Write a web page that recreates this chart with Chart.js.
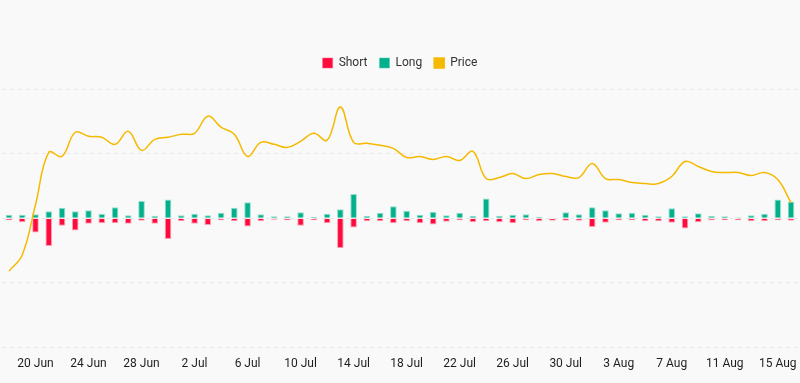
<!DOCTYPE html>
<html>
<head>
<meta charset="utf-8">
<script src="https://cdn.jsdelivr.net/npm/chart.js@4.4.1/dist/chart.umd.min.js"></script>
<style>
  html, body { margin: 0; padding: 0; background: #f9f9f9; }
  #wrap { width: 800px; height: 383px; position: relative; }
</style>
</head>
<body>
<div id="wrap"><canvas id="c"></canvas></div>
<script>
const dates = [
  "18 Jun","19 Jun","20 Jun","21 Jun","22 Jun","23 Jun","24 Jun","25 Jun","26 Jun","27 Jun",
  "28 Jun","29 Jun","30 Jun","1 Jul","2 Jul","3 Jul","4 Jul","5 Jul","6 Jul","7 Jul",
  "8 Jul","9 Jul","10 Jul","11 Jul","12 Jul","13 Jul","14 Jul","15 Jul","16 Jul","17 Jul",
  "18 Jul","19 Jul","20 Jul","21 Jul","22 Jul","23 Jul","24 Jul","25 Jul","26 Jul","27 Jul",
  "28 Jul","29 Jul","30 Jul","31 Jul","1 Aug","2 Aug","3 Aug","4 Aug","5 Aug","6 Aug",
  "7 Aug","8 Aug","9 Aug","10 Aug","11 Aug","12 Aug","13 Aug","14 Aug","15 Aug","16 Aug"
];

const shortLiq = [
  -0.31,-0.62,-2.19,-4.30,-1.17,-1.88,-0.86,-0.78,-0.78,-0.86,
  -0.39,-0.86,-3.20,-0.47,-0.86,-1.02,-0.31,-0.47,-1.25,-0.47,
  -0.23,-0.31,-1.17,-0.31,-0.78,-4.61,-1.41,-0.47,-0.47,-0.78,
  -0.47,-0.78,-0.94,-0.55,-0.31,-0.62,-0.47,-0.62,-0.78,-0.31,
  -0.47,-0.39,-0.39,-0.39,-1.33,-0.70,-0.31,-0.31,-0.47,-0.47,
  -0.70,-1.56,-0.62,-0.31,-0.31,-0.31,-0.47,-0.47,-0.31,-0.39
];

const longLiq = [
  0.55,0.55,0.62,1.09,1.64,1.09,1.25,0.70,1.72,0.47,
  2.66,0.39,2.89,0.47,0.70,0.47,0.86,1.64,2.50,0.62,
  0.31,0.31,0.94,0.23,0.70,1.41,3.75,0.39,0.86,1.88,
  1.17,0.55,1.02,0.47,0.86,0.39,3.05,0.39,0.55,0.62,
  0.23,0.08,0.94,0.62,1.72,1.25,0.78,0.86,0.55,0.31,
  1.56,0.31,0.78,0.39,0.31,0.16,0.47,0.70,2.89,2.58
];

const price = [
  0.76,0.92,1.42,1.94,1.90,2.14,2.10,2.09,2.02,2.15,
  1.96,2.07,2.09,2.12,2.13,2.30,2.19,2.12,1.90,2.04,
  2.02,1.99,2.05,2.13,2.06,2.39,2.04,2.03,2.01,1.98,
  1.89,1.90,1.87,1.90,1.86,1.95,1.68,1.69,1.73,1.68,
  1.72,1.73,1.70,1.69,1.83,1.68,1.67,1.64,1.63,1.63,
  1.70,1.85,1.80,1.75,1.74,1.74,1.71,1.74,1.67,1.44
];

const RED = '#ff0a3c';
const GREEN = '#02b08c';
const YELLOW = '#f5ba00';

const legendMargin = {
  id: 'legendMargin',
  beforeInit(chart) {
    const origFit = chart.legend.fit;
    chart.legend.fit = function () {
      origFit.bind(chart.legend)();
      this.height += 10;
    };
  }
};

new Chart(document.getElementById('c'), {
  type: 'bar',
  data: {
    labels: dates,
    datasets: [
      {
        label: 'Short',
        data: shortLiq,
        backgroundColor: RED,
        borderColor: 'rgba(255,90,125,0.55)',
        borderWidth: 1,
        borderSkipped: 'start',
        stack: 's',
        yAxisID: 'y',
        barPercentage: 1.0,
        categoryPercentage: 0.5
      },
      {
        label: 'Long',
        data: longLiq,
        backgroundColor: GREEN,
        borderColor: 'rgba(80,205,175,0.6)',
        borderWidth: 1,
        borderSkipped: 'start',
        stack: 's',
        yAxisID: 'y',
        barPercentage: 1.0,
        categoryPercentage: 0.5
      },
      {
        type: 'line',
        label: 'Price',
        data: price,
        borderColor: YELLOW,
        backgroundColor: YELLOW,
        borderWidth: 1.5,
        pointRadius: 0,
        tension: 0.4,
        fill: false,
        yAxisID: 'y1',
        order: -1
      }
    ]
  },
  options: {
    responsive: true,
    maintainAspectRatio: false,
    animation: false,
    layout: { padding: { top: 45, bottom: 3, left: 0, right: 0 } },
    plugins: {
      tooltip: { enabled: false },
      legend: {
        position: 'top',
        labels: {
          boxWidth: 10,
          boxHeight: 10,
          padding: 12,
          color: '#333333',
          font: { family: 'Roboto', size: 12 },
          sort: (a, b) => a.datasetIndex - b.datasetIndex
        }
      }
    },
    scales: {
      x: {
        stacked: true,
        grid: { display: false, drawTicks: false },
        border: { display: false },
        ticks: {
          autoSkip: false,
          maxRotation: 0,
          padding: 9,
          color: '#1e1e1e',
          font: { family: 'Roboto', size: 12 },
          callback: function (value, index) {
            return (index - 2) % 4 === 0 ? this.getLabelForValue(value) : '';
          }
        }
      },
      y: {
        stacked: true,
        position: 'left',
        min: -20,
        max: 20,
        ticks: { display: false, stepSize: 10 },
        border: { display: false, dash: [4, 4] },
        grid: { color: '#e8e8e8', lineWidth: 1, drawTicks: false, tickLength: 0 }
      },
      y1: {
        display: false,
        position: 'right',
        min: 0,
        max: 2.57
      }
    }
  },
  plugins: [legendMargin]
});
</script>
</body>
</html>
